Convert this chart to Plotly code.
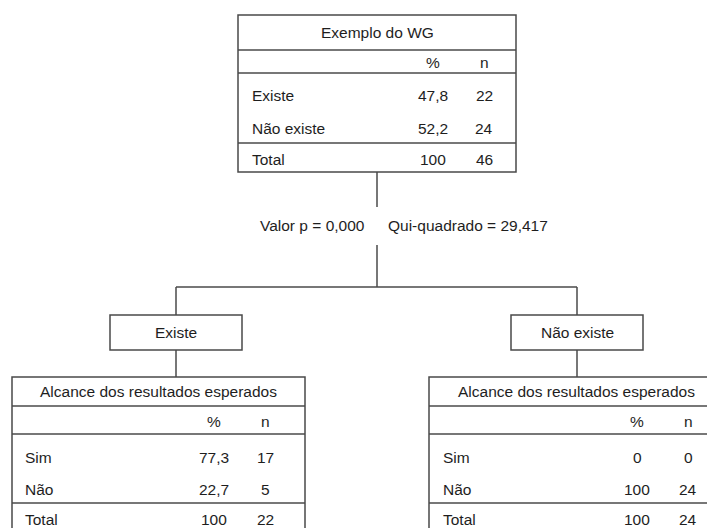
import plotly.graph_objects as go

# ---------------------------------------------------------------- data
root_title = "Exemplo do WG"
root_labels = ["Existe", "Não existe"]
root_pct = [47.8, 52.2]
root_n = [22, 24]
root_total = (100, 46)

p_value = 0.000
chi_square = 29.417

child_names = ["Existe", "Não existe"]
child_title = "Alcance dos resultados esperados"
child_labels = ["Sim", "Não"]
left_pct = [77.3, 22.7]
left_n = [17, 5]
left_total = (100, 22)
right_pct = [0, 100]
right_n = [0, 24]
right_total = (100, 24)

# ---------------------------------------------------------------- style
LINE = "#4a4a4a"
TEXT = "#1e1e1e"
FONT = "Arial, Liberation Sans, sans-serif"
FS = 15.5
OFF = 8  # page body margin, shift ranges so coordinates match page pixels
W, H = 707, 520


def fmt(v):
    if isinstance(v, float) and not v.is_integer():
        return f"{v:.1f}".replace(".", ",")
    return str(int(v))


shapes = []
annotations = []


def line(x0, y0, x1, y1):
    shapes.append(dict(type="line", x0=x0, y0=y0, x1=x1, y1=y1,
                       line=dict(color=LINE, width=1.5)))


def rect(x0, y0, x1, y1):
    shapes.append(dict(type="rect", x0=x0, y0=y0, x1=x1, y1=y1,
                       line=dict(color=LINE, width=1.5), fillcolor="white"))


def text(x, y, s, anchor="center", size=FS):
    annotations.append(dict(x=x, y=y, text=s, showarrow=False, xanchor=anchor,
                            yanchor="middle", font=dict(family=FONT, size=size, color=TEXT)))


def table(x0, x1, ys, title, labels, pct, n, total, lab_dx, pct_dx, n_dx):
    # ys: top, title line, header line, row centres..., total line, total centre, bottom
    top, t_line, h_line, r1, r2, tot_line, tot_c, bottom = ys
    rect(x0, top, x1, bottom)
    line(x0, t_line, x1, t_line)
    line(x0, h_line, x1, h_line)
    line(x0, tot_line, x1, tot_line)
    text((x0 + x1) / 2, (top + t_line) / 2, title)
    text(x0 + pct_dx, (t_line + h_line) / 2 + 1, "%")
    text(x0 + n_dx, (t_line + h_line) / 2 + 1, "n")
    for lab, p, k, y in zip(labels, pct, n, [r1, r2]):
        text(x0 + lab_dx, y, lab, anchor="left")
        text(x0 + pct_dx, y, fmt(p))
        text(x0 + n_dx, y, fmt(k))
    text(x0 + lab_dx, tot_c, "Total", anchor="left")
    text(x0 + pct_dx, tot_c, fmt(total[0]))
    text(x0 + n_dx, tot_c, fmt(total[1]))


# root node
table(238, 516, [15, 50, 73, 95, 128, 143, 159, 172], root_title,
      root_labels, root_pct, root_n, root_total, 12, 195, 246)

# split statistic
line(377, 172, 377, 207)
line(377, 245, 377, 287)
text(367, 225, f"Valor p = {p_value:.3f}".replace(".", ","), anchor="right")
text(386, 225, f"Qui-quadrado = {chi_square:.3f}".replace(".", ","), anchor="left")

# branches
line(176, 287, 577, 287)
for cx, name in zip([176, 577], child_names):
    line(cx, 287, cx, 315)
    rect(cx - 66, 315, cx + 66, 350)
    text(cx, 332, name)
    line(cx, 350, cx, 377)

lower = [377, 406, 434, 457, 489, 503, 519, 540]
table(12, 305, lower, child_title, child_labels, left_pct, left_n, left_total, 11, 202, 253)
table(429, 724, lower, child_title, child_labels, right_pct, right_n, right_total, 12, 208, 259)

fig = go.Figure()
fig.update_layout(
    width=W, height=H,
    margin=dict(l=0, r=0, t=0, b=0),
    paper_bgcolor="white", plot_bgcolor="white",
    xaxis=dict(range=[OFF, W + OFF], visible=False, fixedrange=True),
    yaxis=dict(range=[H + OFF, OFF], visible=False, fixedrange=True),
    shapes=shapes, annotations=annotations, showlegend=False,
)
fig.write_html("out.html")
